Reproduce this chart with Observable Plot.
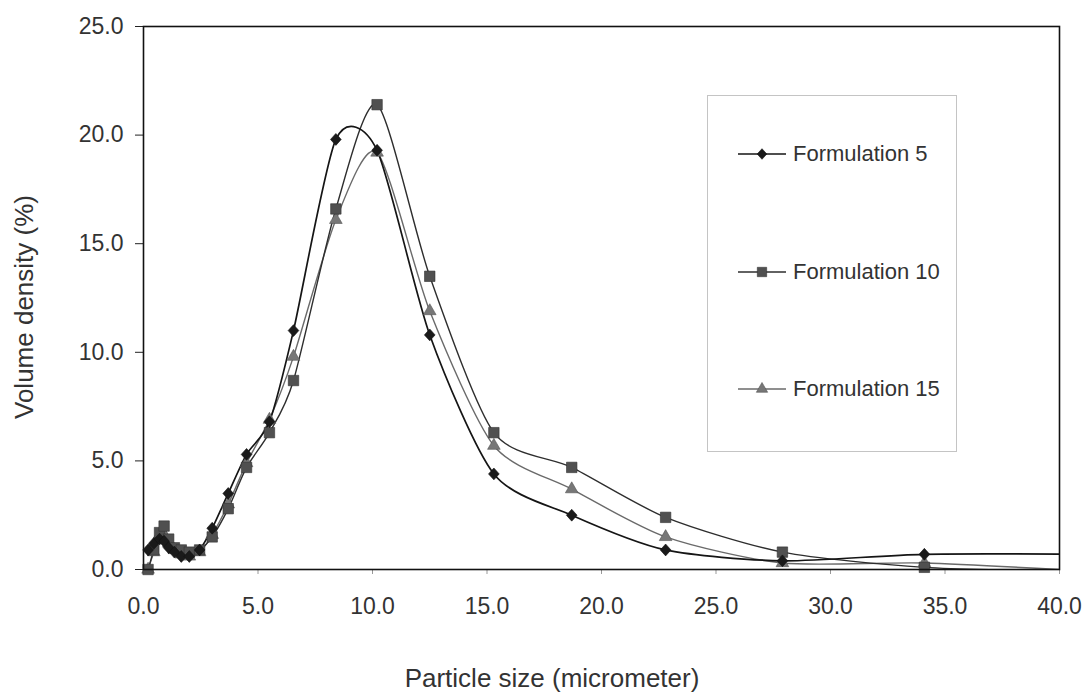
<!DOCTYPE html>
<html>
<head>
<meta charset="utf-8">
<script src="https://cdn.jsdelivr.net/npm/d3@7"></script>
<script src="https://cdn.jsdelivr.net/npm/@observablehq/plot@0.6"></script>
<style>
  body { margin: 0; background: #fff; }
  #wrap { position: relative; width: 1087px; height: 693px; font-family: "Liberation Sans", Arial, sans-serif; color: #333; background: #fff; }
  #wrap svg { display: block; }
  .xtitle { position: absolute; left: 352px; top: 665px; width: 400px; height: 26px; line-height: 26px; text-align: center; font-size: 26px; white-space: nowrap; }
  .ytitle { position: absolute; left: -126px; top: 294px; width: 300px; height: 26px; line-height: 26px; text-align: center; font-size: 26px; white-space: nowrap; transform: rotate(-90deg); transform-origin: center; }
  .legend { position: absolute; left: 707px; top: 95px; width: 250px; height: 357px; border: 1px solid #c4c4c4; box-sizing: border-box; background: #fff; }
  .entry { position: absolute; left: 29px; height: 24px; display: flex; align-items: center; font-size: 22px; white-space: nowrap; }
  .entry svg { margin-right: 6px; }
</style>
</head>
<body>
<div id="wrap"></div>
<script>
// ---- data ----
const sizes = [0.2, 0.45, 0.7, 0.9, 1.1, 1.35, 1.65, 2.0, 2.45, 3.0, 3.7, 4.5, 5.5, 6.55, 8.4, 10.2, 12.5, 15.3, 18.7, 22.8, 27.9, 34.1, 41.6];
const formulation5  = [0.9, 1.2, 1.4, 1.3, 1.0, 0.8, 0.6, 0.6, 0.9, 1.9, 3.5, 5.3, 6.8, 11.0, 19.8, 19.3, 10.8, 4.4, 2.5, 0.9, 0.4, 0.7, 0.7];
const formulation10 = [0.0, 0.9, 1.7, 2.0, 1.4, 1.0, 0.9, 0.8, 0.9, 1.5, 2.8, 4.7, 6.3, 8.7, 16.6, 21.4, 13.5, 6.3, 4.7, 2.4, 0.8, 0.1, -0.1];
const formulation15 = [0.0, 0.8, 1.6, 1.6, 1.2, 0.9, 0.7, 0.6, 0.8, 1.6, 3.0, 4.9, 6.9, 9.8, 16.1, 19.2, 11.9, 5.7, 3.7, 1.5, 0.3, 0.3, -0.1];
const seriesNames = ["Formulation 5", "Formulation 10", "Formulation 15"];
const xTicks = [0, 5, 10, 15, 20, 25, 30, 35, 40];
const yTicks = [0, 5, 10, 15, 20, 25];
const xTitle = "Particle size (micrometer)";
const yTitle = "Volume density (%)";

// ---- styles ----
const lineColors = ["#151515", "#2e2e2e", "#6a6a6a"];
const lineWidths = [1.7, 1.4, 1.4];
const markFills = ["#1a1a1a", "#505050", "#777777"];
const markStrokes = ["#111", "#333", "#555"];

const diamondSym = {
  draw(ctx, size) {
    const s = Math.sqrt(size);
    const h = s * 0.62, w = s * 0.56;
    ctx.moveTo(0, -h); ctx.lineTo(w, 0); ctx.lineTo(0, h); ctx.lineTo(-w, 0); ctx.closePath();
  }
};
const symbols = [diamondSym, "square", "triangle"];
const radii = [5.4, 5.9, 4.7];

const allSeries = [formulation5, formulation10, formulation15];
const rows = [];
allSeries.forEach((vals, i) => vals.forEach((v, j) => rows.push({series: seriesNames[i], idx: i, size: sizes[j], density: v})));

const marks = [];
[2, 1, 0].forEach(i => {
  marks.push(Plot.line(rows.filter(d => d.idx === i), {
    x: "size", y: "density", curve: "cardinal", tension: 0.25,
    stroke: lineColors[i], strokeWidth: lineWidths[i], clip: true
  }));
});
[2, 1, 0].forEach(i => {
  marks.push(Plot.dot(rows.filter(d => d.idx === i && d.size <= 40), {
    x: "size", y: "density", symbol: () => symbols[i], r: radii[i],
    fill: markFills[i], stroke: markStrokes[i], strokeWidth: 0.6
  }));
});

const chart = Plot.plot({
  width: 1087,
  height: 693,
  marginLeft: 143,
  marginRight: 28,
  marginTop: 26,
  marginBottom: 124,
  style: {fontFamily: "'Liberation Sans', Arial, sans-serif", fontSize: "23px", color: "#333", background: "transparent", overflow: "visible"},
  x: {domain: [0, 40], label: null},
  y: {domain: [0, 25], label: null},
  symbol: {domain: seriesNames, range: symbols},
  marks: [
    Plot.axisY({ticks: yTicks, tickFormat: d3.format(".1f"), tickSize: 8, tickPadding: 12, stroke: "#222", fill: "#333", label: null, fontSize: 23}),
    Plot.axisX({ticks: xTicks, tickFormat: d3.format(".1f"), tickSize: 5, tickPadding: 23, stroke: "#999", fill: "#333", label: null, fontSize: 23}),
    ...marks,
    Plot.frame({stroke: "#111", strokeWidth: 1.6})
  ]
});

const wrap = document.getElementById("wrap");
wrap.appendChild(chart);

const xt = document.createElement("div");
xt.className = "xtitle"; xt.textContent = xTitle; wrap.appendChild(xt);
const yt = document.createElement("div");
yt.className = "ytitle"; yt.textContent = yTitle; wrap.appendChild(yt);

// legend
const legend = document.createElement("div");
legend.className = "legend";
wrap.appendChild(legend);
seriesNames.forEach((name, i) => {
  const e = document.createElement("div");
  e.className = "entry";
  e.style.top = (58 - 12 + i * 117.5) + "px";
  const svg = d3.create("svg").attr("width", 50).attr("height", 18);
  svg.append("line").attr("x1", 1).attr("x2", 49).attr("y1", 9).attr("y2", 9)
    .attr("stroke", lineColors[i]).attr("stroke-width", lineWidths[i]);
  const symType = i === 0 ? diamondSym : (i === 1 ? d3.symbolSquare : d3.symbolTriangle);
  svg.append("path").attr("transform", "translate(25,9)")
    .attr("d", d3.symbol(symType, Math.PI * radii[i] * radii[i] * 0.8)())
    .attr("fill", markFills[i]).attr("stroke", markStrokes[i]).attr("stroke-width", 0.6);
  e.appendChild(svg.node());
  const t = document.createElement("span");
  t.textContent = name;
  e.appendChild(t);
  legend.appendChild(e);
});
</script>
</body>
</html>
